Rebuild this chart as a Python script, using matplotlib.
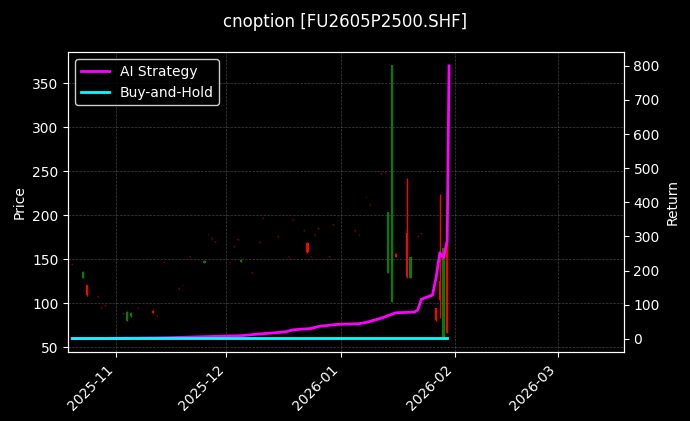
import matplotlib
matplotlib.use('Agg')
import matplotlib.pyplot as plt
import matplotlib.dates as mdates
import pandas as pd

plt.style.use('dark_background')

# candles: date, open, high, low, close, alpha
dates = ['2025-10-20', '2025-10-23', '2025-10-24', '2025-10-27', '2025-10-28', '2025-10-29',
         '2025-11-03', '2025-11-04', '2025-11-05', '2025-11-07', '2025-11-11', '2025-11-12',
         '2025-11-14', '2025-11-18', '2025-11-19', '2025-11-21', '2025-11-25', '2025-11-26',
         '2025-11-27', '2025-11-28', '2025-12-02', '2025-12-03', '2025-12-04', '2025-12-05',
         '2025-12-08', '2025-12-10', '2025-12-11', '2025-12-15', '2025-12-18', '2025-12-19',
         '2025-12-22', '2025-12-23', '2025-12-24', '2025-12-25', '2025-12-26', '2025-12-29',
         '2025-12-30', '2026-01-05', '2026-01-06', '2026-01-08', '2026-01-09', '2026-01-12',
         '2026-01-13', '2026-01-14', '2026-01-15', '2026-01-16', '2026-01-19', '2026-01-20',
         '2026-01-22', '2026-01-23', '2026-01-27', '2026-01-28', '2026-01-29', '2026-01-30']
opens  = [144, 128, 120, 108, 95, 98, 89, 80, 85, 95, 91, 86, 147, 117, 121, 153, 146, 179,
          174, 170, 147, 165, 173, 147, 135, 169, 197, 176, 153, 195, 183, 168, 153, 178, 185,
          153, 190, 183, 178, 221, 212, 248, 249, 134, 101, 156, 180, 128, 176, 180, 94, 125, 61, 172]
highs  = [145, 136, 121, 109, 96, 99, 90, 91, 90, 96, 92, 87, 148, 118, 122, 154, 149, 180,
          175, 171, 148, 166, 174, 150, 136, 170, 198, 177, 154, 196, 184, 169, 154, 179, 186,
          154, 191, 184, 179, 222, 213, 249, 250, 203, 370, 157, 242, 152, 177, 181, 94, 224, 163, 172]
lows   = [143, 128, 108, 106, 93, 96, 87, 80, 84, 93, 89, 84, 145, 115, 119, 151, 146, 177,
          172, 168, 145, 163, 171, 147, 133, 167, 195, 174, 151, 193, 181, 157, 151, 176, 183,
          151, 188, 181, 176, 219, 210, 246, 247, 134, 101, 152, 129, 128, 174, 178, 80, 83, 61, 66]
closes = [143, 135, 109, 107, 94, 97, 88, 90, 89, 94, 89, 85, 146, 116, 120, 152, 148, 178,
          173, 169, 146, 164, 172, 149, 134, 168, 196, 175, 152, 194, 182, 158, 152, 177, 184,
          152, 189, 182, 177, 220, 211, 247, 248, 203, 370, 152, 130, 152, 175, 179, 81, 103, 163, 66]
alphas = [0.25, 1, 1, 0.25, 0.25, 0.25, 0.25, 1, 1, 0.25, 1, 0.25, 0.25, 0.25, 0.25, 0.25, 1,
          0.25, 0.25, 0.25, 0.25, 0.25, 0.25, 1, 0.25, 0.25, 0.25, 0.25, 0.25, 0.25, 0.25, 1,
          0.25, 0.25, 0.25, 0.25, 0.25, 0.25, 0.25, 0.25, 0.25, 0.25, 0.25, 1, 1, 1, 1, 1,
          0.25, 0.25, 1, 1, 1, 1]

ret_dates = ['2025-10-20', '2025-11-15', '2025-12-05', '2025-12-10', '2025-12-17', '2025-12-19',
             '2025-12-24', '2025-12-26', '2025-12-31', '2026-01-06', '2026-01-08', '2026-01-12',
             '2026-01-14', '2026-01-16', '2026-01-21', '2026-01-22', '2026-01-23', '2026-01-26',
             '2026-01-27', '2026-01-28', '2026-01-29', '2026-01-30']
ai_ret  = [0, 3, 9, 14, 20, 26, 30, 36, 42, 44, 48, 60, 68, 76, 78, 84, 116, 128, 180, 252, 238, 287]
ai_last = 800
bh_ret  = [2] * len(ret_dates)

d = pd.to_datetime(dates)
fig, ax = plt.subplots(figsize=(6.9, 4.21), dpi=100)
fig.patch.set_facecolor('black')
ax.set_facecolor('black')

for x, o, h, l, c, a in zip(d, opens, highs, lows, closes, alphas):
    col = 'green' if c >= o else 'red'
    ax.vlines(x, l, h, color=col, lw=1, alpha=a)
    ax.bar(x, max(abs(c - o), 0.8), bottom=min(o, c), width=0.6, color=col, alpha=a)

ax.set_ylabel('Price')
ax.set_ylim(44, 385)
ax.grid(True, color='gray', linestyle='--', linewidth=0.5, alpha=0.5)

ax2 = ax.twinx()
rd = pd.to_datetime(ret_dates)
ai_x = list(rd) + [pd.Timestamp('2026-01-30 12:00')]
ax2.plot(ai_x, ai_ret + [ai_last], color='magenta', lw=2, label='AI Strategy')
ax2.plot(rd, bh_ret, color='cyan', lw=2, label='Buy-and-Hold')
ax2.set_ylabel('Return')
ax2.legend(loc='upper left', facecolor='black', edgecolor='white')

ax.set_xlim(pd.Timestamp('2025-10-19'), pd.Timestamp('2026-03-19'))
ax.xaxis.set_major_locator(mdates.MonthLocator())
ax.xaxis.set_major_formatter(mdates.DateFormatter('%Y-%m'))
plt.setp(ax.get_xticklabels(), rotation=45, ha='right')

fig.suptitle('cnoption [FU2605P2500.SHF]', y=0.97)
fig.subplots_adjust(left=0.099, right=0.904, top=0.876, bottom=0.163)
fig.savefig('out.png', dpi=100, facecolor='black')
